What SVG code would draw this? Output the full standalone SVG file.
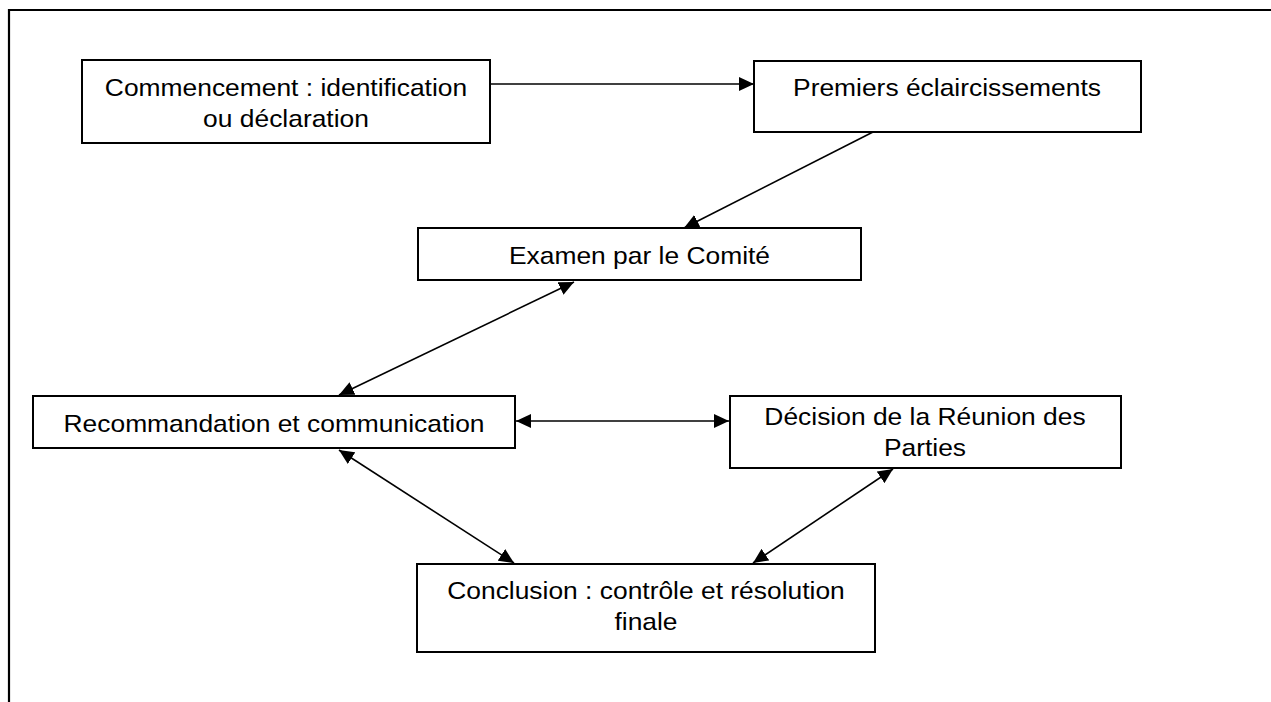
<svg xmlns="http://www.w3.org/2000/svg" width="1271" height="702" viewBox="0 0 1271 702">
<style>
.box{fill:#fff;stroke:#000;stroke-width:2}
.lbl{font-family:"Liberation Sans",Arial,sans-serif;font-size:24px;fill:#000;text-anchor:middle}
.con{stroke:#000;stroke-width:1.6;fill:none}
.one{marker-end:url(#ah)}
.two{marker-start:url(#ah);marker-end:url(#ah)}
</style>
<defs>
<marker id="ah" markerUnits="userSpaceOnUse" markerWidth="16" markerHeight="14" refX="15" refY="7" orient="auto-start-reverse" viewBox="0 0 16 14">
<path d="M0,0 L15,7 L0,14 Z" fill="#000"/>
</marker>
</defs>
<rect width="1271" height="702" fill="#fff"/>
<path d="M9,702 L9,10 L1271,10" fill="none" stroke="#000" stroke-width="2.2"/>
<g id="connectors">
<line class="con one" x1="491" y1="84" x2="754" y2="84"/>
<line class="con one" x1="873" y1="132" x2="684" y2="228"/>
<line class="con two" x1="574" y1="282" x2="339" y2="395"/>
<line class="con two" x1="516" y1="421" x2="729" y2="421"/>
<line class="con two" x1="339" y1="450" x2="514" y2="563"/>
<line class="con two" x1="893" y1="469" x2="753" y2="563"/>
</g>
<g id="n-commencement">
<rect class="box" x="82" y="60" width="408" height="83"/>
<text class="lbl" transform="translate(286 96) scale(1.1 1)">Commencement : identification</text>
<text class="lbl" transform="translate(286 127) scale(1.1 1)">ou déclaration</text>
</g>
<g id="n-premiers">
<rect class="box" x="754" y="61" width="387" height="71"/>
<text class="lbl" transform="translate(947 96) scale(1.1 1)">Premiers éclaircissements</text>
</g>
<g id="n-examen">
<rect class="box" x="418" y="228" width="443" height="52"/>
<text class="lbl" transform="translate(639.5 264) scale(1.1 1)">Examen par le Comité</text>
</g>
<g id="n-recommandation">
<rect class="box" x="33" y="396" width="482" height="52"/>
<text class="lbl" transform="translate(274 431.5) scale(1.1 1)">Recommandation et communication</text>
</g>
<g id="n-decision">
<rect class="box" x="730" y="396" width="391" height="72"/>
<text class="lbl" transform="translate(925 425) scale(1.1 1)">Décision de la Réunion des</text>
<text class="lbl" transform="translate(925 456) scale(1.1 1)">Parties</text>
</g>
<g id="n-conclusion">
<rect class="box" x="417" y="564" width="458" height="88"/>
<text class="lbl" transform="translate(646 599) scale(1.1 1)">Conclusion : contrôle et résolution</text>
<text class="lbl" transform="translate(646 630) scale(1.1 1)">finale</text>
</g>
</svg>
